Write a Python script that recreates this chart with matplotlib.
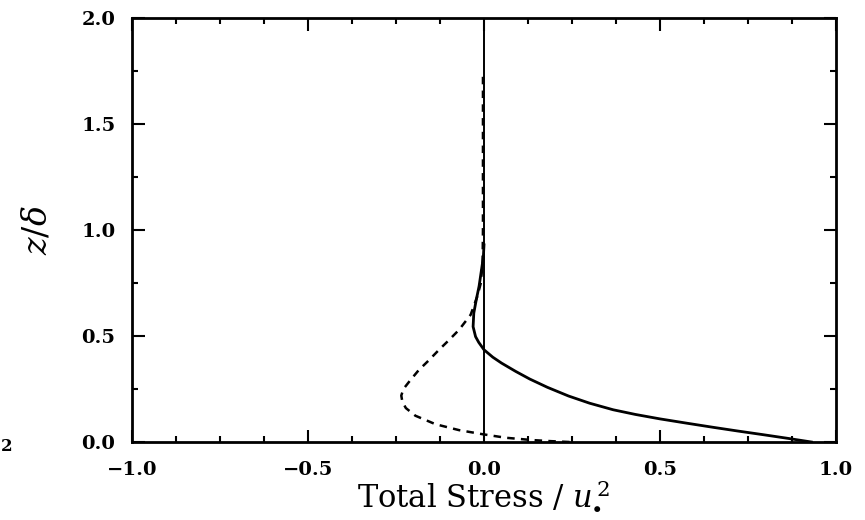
import numpy as np
import matplotlib
matplotlib.use("Agg")
import matplotlib.pyplot as plt
from matplotlib.ticker import MultipleLocator

# solid curve: total stress profile (x = stress / u*^2, z = z/delta)
solid_x = [0.93, 0.86, 0.795, 0.72, 0.652, 0.575, 0.50, 0.43, 0.367, 0.30,
           0.24, 0.18, 0.13, 0.09, 0.05, 0.025, 0.0, -0.015, -0.024, -0.031,
           -0.029, -0.022, -0.014, -0.007, -0.002, 0.0]
solid_z = [0.0, 0.018, 0.034, 0.052, 0.069, 0.089, 0.109, 0.13, 0.152, 0.183,
           0.217, 0.258, 0.297, 0.333, 0.372, 0.40, 0.435, 0.47, 0.497, 0.544,
           0.608, 0.671, 0.735, 0.814, 0.87, 0.93]

# dashed curve
dash_x = [0.243, 0.19, 0.138, 0.062, -0.005, -0.071, -0.138, -0.195, -0.222,
          -0.232, -0.235, -0.229, -0.21, -0.186, -0.157, -0.129, -0.10,
          -0.071, -0.038, -0.019, -0.009, -0.004, -0.003, -0.003]
dash_z = [0.0, 0.004, 0.009, 0.02, 0.037, 0.056, 0.084, 0.124, 0.16,
          0.19, 0.219, 0.25, 0.29, 0.338, 0.385, 0.433, 0.48,
          0.529, 0.60, 0.687, 0.75, 0.85, 1.0, 1.75]

xlim = (-1.0, 1.0)
ylim = (0.0, 2.0)

serif = "DejaVu Serif"
plt.rcParams["mathtext.fontset"] = "dejavuserif"

fig = plt.figure(figsize=(8.65, 5.2), dpi=100)
ax = fig.add_axes([0.1526, 0.15, 0.8139, 0.8154])

ax.axvline(0.0, color="black", linewidth=1.4)
ax.plot(dash_x, dash_z, color="black", linewidth=1.8, linestyle=(0, (3, 2.5)))
ax.plot(solid_x, solid_z, color="black", linewidth=2.0)

ax.set_xlim(*xlim)
ax.set_ylim(*ylim)
ax.xaxis.set_major_locator(MultipleLocator(0.5))
ax.xaxis.set_minor_locator(MultipleLocator(0.125))
ax.yaxis.set_major_locator(MultipleLocator(0.5))
ax.yaxis.set_minor_locator(MultipleLocator(0.25))
ax.xaxis.set_major_formatter(plt.FuncFormatter(lambda v, p: f"{v:.1f}".replace("-", "\u2212")))
ax.yaxis.set_major_formatter(plt.FuncFormatter(lambda v, p: f"{v:.1f}"))

ax.tick_params(which="both", direction="in", top=True, right=True, width=1.5)
ax.tick_params(which="major", length=9)
ax.tick_params(which="minor", length=4.5)
ax.tick_params(axis="x", which="major", pad=14)
ax.tick_params(axis="y", which="major", pad=12)
for lab in ax.get_xticklabels() + ax.get_yticklabels():
    lab.set_fontfamily(serif)
    lab.set_fontweight("bold")
    lab.set_fontsize(14)
for s in ax.spines.values():
    s.set_linewidth(2.0)

ax.set_xlabel("Total Stress / $u_{\\bullet}^{\\,2}$", fontfamily=serif, fontsize=22, labelpad=0)
ax.set_ylabel("$z/\\delta$", fontfamily=serif, fontsize=24, labelpad=20)

# fragment of a neighbouring panel label at the left edge
fig.text(0.001, 0.132, "2", fontfamily=serif, fontweight="bold", fontsize=12)

fig.savefig("out.png", dpi=100)
